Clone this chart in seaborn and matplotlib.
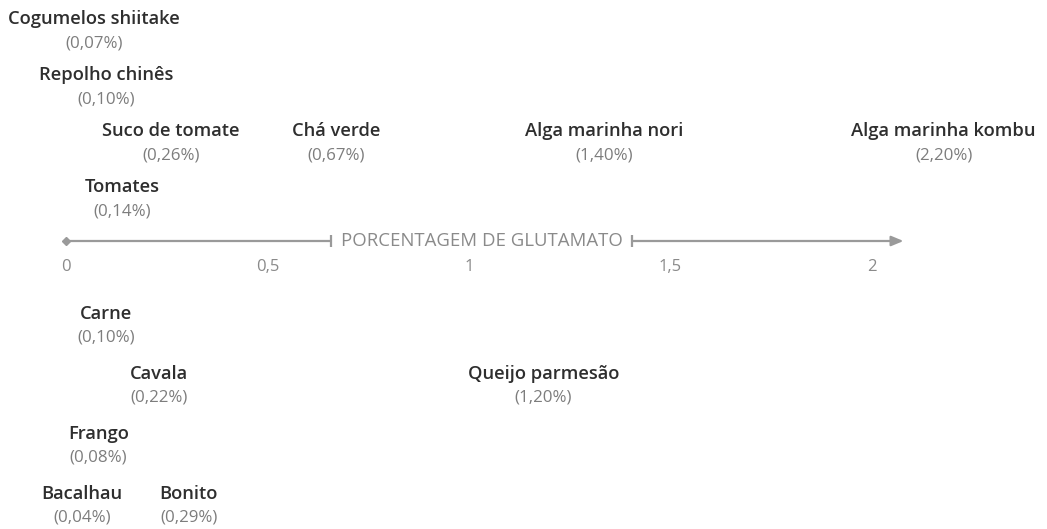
import matplotlib
matplotlib.use("Agg")
import matplotlib.pyplot as plt
import seaborn as sns
import pandas as pd

# ---- data ----
above_names = ["Cogumelos shiitake", "Repolho chinês", "Suco de tomate", "Chá verde",
               "Alga marinha nori", "Alga marinha kombu", "Tomates"]
above_values = [0.07, 0.10, 0.26, 0.67, 1.40, 2.20, 0.14]
above_rows = [4, 3, 2, 2, 2, 2, 1]

below_names = ["Carne", "Cavala", "Queijo parmesão", "Frango", "Bacalhau", "Bonito"]
below_values = [0.10, 0.22, 1.20, 0.08, 0.04, 0.29]
below_rows = [1, 2, 2, 3, 4, 4]

tick_values = [0, 0.5, 1, 1.5, 2]
tick_labels = ["0", "0,5", "1", "1,5", "2"]
axis_title = "PORCENTAGEM DE GLUTAMATO"

# layout-only horizontal nudges (pixels) for labels
above_nudge = [0, 0, 0, 0, -26, -9, 0]
below_nudge = [0, 4, -6, 0, 0, 6]

sns.set_theme(style="white")
plt.rcParams["font.family"] = ["Open Sans", "DejaVu Sans"]

W, H = 1047, 529
fig = plt.figure(figsize=(W / 100, H / 100), dpi=100)
ax = fig.add_axes([0, 0, 1, 1])
px = 403.0  # pixels per unit
x0 = 66.0
ax.set_xlim(-x0 / px, (W - x0) / px)
ax.set_ylim(H, 0)
ax.axis("off")

AXIS_Y = 241
line_col = "#9a9a9a"
name_col = "#2e2e2e"
pct_col = "#7d7d7d"

# axis segments
seg_left = pd.DataFrame({"x": [0, 0.658], "y": [AXIS_Y, AXIS_Y]})
seg_right = pd.DataFrame({"x": [1.404, 2.06], "y": [AXIS_Y, AXIS_Y]})
sns.lineplot(data=seg_left, x="x", y="y", ax=ax, color=line_col, lw=1.6, sort=False)
sns.lineplot(data=seg_right, x="x", y="y", ax=ax, color=line_col, lw=1.6, sort=False)
ax.plot([0], [AXIS_Y], marker="D", ms=4, color=line_col)
ax.plot([0.658, 1.404], [AXIS_Y, AXIS_Y], ls="none", marker="|", ms=9, mew=1.6, color=line_col)
ax.annotate("", xy=(2.085, AXIS_Y), xytext=(2.04, AXIS_Y),
            arrowprops=dict(arrowstyle="-|>,head_length=0.6,head_width=0.25",
                            color=line_col, lw=1.6))
ax.text(1.033, AXIS_Y, axis_title, ha="center", va="center", fontsize=13.4,
        color="#8a8a8a")

for v, lab in zip(tick_values, tick_labels):
    ax.text(v, 267, lab, ha="center", va="center", fontsize=12, color="#8a8a8a")

NAME_FS = 13.2
PCT_FS = 12.2


def fmt(v):
    return "(" + f"{v:.2f}".replace(".", ",") + "%)"


for n, v, r, d in zip(above_names, above_values, above_rows, above_nudge):
    ny = AXIS_Y - 54 - (r - 1) * 56
    xv = v + d / px
    ax.text(xv, ny, n, ha="center", va="center", fontsize=NAME_FS, color=name_col,
            fontweight="semibold")
    ax.text(xv, ny + 24, fmt(v), ha="center", va="center", fontsize=PCT_FS, color=pct_col)

for n, v, r, d in zip(below_names, below_values, below_rows, below_nudge):
    ny = 314 + (r - 1) * 60
    xv = v + d / px
    ax.text(xv, ny, n, ha="center", va="center", fontsize=NAME_FS, color=name_col,
            fontweight="semibold")
    ax.text(xv, ny + 24, fmt(v), ha="center", va="center", fontsize=PCT_FS, color=pct_col)

fig.savefig("out.png", dpi=100, facecolor="white")
